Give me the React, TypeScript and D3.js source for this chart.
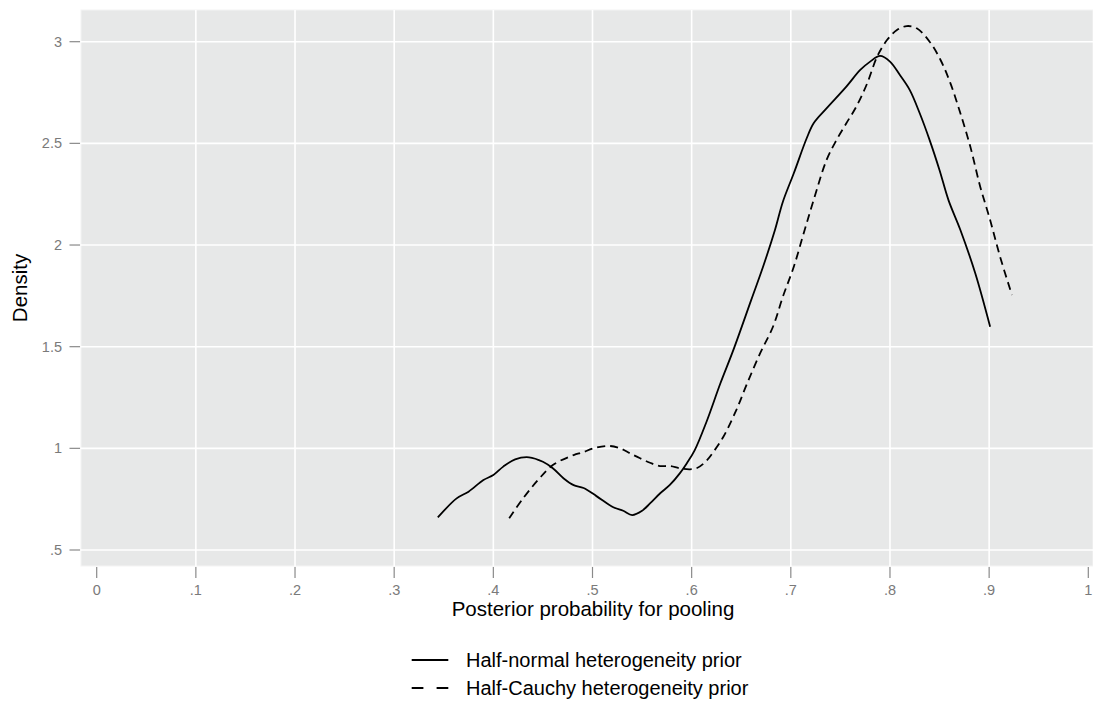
import React from 'react';
import * as d3 from 'd3';

// Half-normal prior density (solid line)
const halfNormalX = [0.344, 0.363, 0.375, 0.390, 0.400, 0.410, 0.422, 0.436, 0.450, 0.460, 0.471, 0.481, 0.491, 0.504, 0.521, 0.531, 0.540, 0.550, 0.558, 0.568, 0.578, 0.588, 0.595, 0.603, 0.615, 0.629, 0.642, 0.660, 0.672, 0.684, 0.692, 0.703, 0.716, 0.723, 0.736, 0.756, 0.770, 0.780, 0.790, 0.800, 0.810, 0.820, 0.830, 0.840, 0.850, 0.859, 0.871, 0.886, 0.901];
const halfNormalY = [0.660, 0.754, 0.787, 0.844, 0.869, 0.910, 0.946, 0.956, 0.934, 0.902, 0.852, 0.819, 0.805, 0.765, 0.710, 0.693, 0.672, 0.693, 0.729, 0.778, 0.820, 0.877, 0.926, 0.990, 1.131, 1.320, 1.483, 1.729, 1.893, 2.074, 2.213, 2.353, 2.525, 2.599, 2.672, 2.779, 2.861, 2.902, 2.930, 2.902, 2.836, 2.762, 2.648, 2.516, 2.368, 2.221, 2.074, 1.861, 1.598];

// Half-Cauchy prior density (dashed line)
const halfCauchyX = [0.416, 0.430, 0.445, 0.460, 0.481, 0.490, 0.501, 0.516, 0.528, 0.538, 0.548, 0.558, 0.568, 0.578, 0.588, 0.598, 0.605, 0.614, 0.622, 0.632, 0.645, 0.656, 0.669, 0.682, 0.692, 0.703, 0.713, 0.723, 0.736, 0.746, 0.756, 0.766, 0.777, 0.787, 0.797, 0.807, 0.817, 0.827, 0.840, 0.851, 0.861, 0.871, 0.881, 0.891, 0.901, 0.911, 0.923];
const halfCauchyY = [0.656, 0.754, 0.844, 0.918, 0.967, 0.980, 1.000, 1.012, 1.000, 0.975, 0.951, 0.929, 0.913, 0.913, 0.902, 0.897, 0.902, 0.934, 0.983, 1.057, 1.188, 1.320, 1.467, 1.598, 1.746, 1.893, 2.058, 2.221, 2.418, 2.516, 2.599, 2.680, 2.795, 2.926, 3.008, 3.057, 3.077, 3.066, 3.000, 2.910, 2.795, 2.648, 2.484, 2.287, 2.123, 1.943, 1.754];

const xTicks = [0, 0.1, 0.2, 0.3, 0.4, 0.5, 0.6, 0.7, 0.8, 0.9, 1];
const xTickLabels = ['0', '.1', '.2', '.3', '.4', '.5', '.6', '.7', '.8', '.9', '1'];
const yTicks = [0.5, 1, 1.5, 2, 2.5, 3];
const yTickLabels = ['.5', '1', '1.5', '2', '2.5', '3'];

const seriesNames = ['Half-normal heterogeneity prior', 'Half-Cauchy heterogeneity prior'];

const W = 1093;
const H = 703;
const plot = { left: 81, right: 1093, top: 10, bottom: 566 };
const FONT = '"Liberation Sans", Arial, Helvetica, sans-serif';
const DASH = '8,5';

export default function App() {
  const x = d3.scaleLinear().domain([0, 1]).range([96.7, 1088.3]);
  const y = d3.scaleLinear().domain([0.5, 3]).range([550, 41.7]);

  // both densities use the same smooth line generator
  const line = d3
    .line<[number, number]>()
    .x(d => x(d[0]))
    .y(d => y(d[1]))
    .curve(d3.curveCatmullRom.alpha(0.5));

  const solidPath = line(halfNormalX.map((v, i) => [v, halfNormalY[i]]));
  const dashedPath = line(halfCauchyX.map((v, i) => [v, halfCauchyY[i]]));

  const legendX = 411.7;
  const legendY = [660, 688];

  return (
    <svg
      width={W}
      height={H}
      style={{ position: 'absolute', left: 0, top: 0, background: '#fff' }}
      fontFamily={FONT}
    >
      {/* plot region */}
      <rect
        x={plot.left}
        y={plot.top}
        width={plot.right - plot.left}
        height={plot.bottom - plot.top}
        fill="#e7e8e8"
        stroke="#f4f4f4"
        strokeWidth={1}
      />

      {/* grid */}
      {xTicks.filter(t => t > 0 && t < 1).map(t => (
        <line key={'gx' + t} x1={x(t)} x2={x(t)} y1={plot.top} y2={plot.bottom} stroke="#fff" strokeWidth={1.6} />
      ))}
      {yTicks.map(t => (
        <line key={'gy' + t} x1={plot.left} x2={plot.right} y1={y(t)} y2={y(t)} stroke="#fff" strokeWidth={1.6} />
      ))}

      {/* y axis ticks */}
      {yTicks.map((t, i) => (
        <g key={'yt' + t}>
          <line x1={69.5} x2={80} y1={y(t)} y2={y(t)} stroke="#8a8a8a" strokeWidth={1.2} />
          <text x={62} y={y(t)} dy="0.35em" textAnchor="end" fontSize={14.5} fill="#7a7a7a">
            {yTickLabels[i]}
          </text>
        </g>
      ))}

      {/* x axis ticks */}
      {xTicks.map((t, i) => (
        <g key={'xt' + t}>
          <line x1={x(t)} x2={x(t)} y1={567} y2={578} stroke="#8a8a8a" strokeWidth={1.2} />
          <text x={x(t)} y={595} textAnchor="middle" fontSize={14.5} fill="#7a7a7a">
            {xTickLabels[i]}
          </text>
        </g>
      ))}

      {/* axis titles */}
      <text x={593} y={616} textAnchor="middle" fontSize={20.5} fill="#000">
        Posterior probability for pooling
      </text>
      <text transform={`translate(27,288) rotate(-90)`} textAnchor="middle" fontSize={20.5} fill="#000">
        Density
      </text>

      {/* curves */}
      <path d={solidPath || ''} fill="none" stroke="#000" strokeWidth={1.8} />
      <path d={dashedPath || ''} fill="none" stroke="#000" strokeWidth={1.8} strokeDasharray={DASH} />

      {/* legend */}
      <line x1={legendX} x2={legendX + 36.6} y1={legendY[0]} y2={legendY[0]} stroke="#000" strokeWidth={1.8} />
      <line
        x1={legendX}
        x2={legendX + 36.6}
        y1={legendY[1]}
        y2={legendY[1]}
        stroke="#000"
        strokeWidth={1.8}
        strokeDasharray="11.7,13.2"
      />
      {seriesNames.map((name, i) => (
        <text key={name} x={466} y={legendY[i]} dy="0.35em" fontSize={20} fill="#000">
          {name}
        </text>
      ))}
    </svg>
  );
}
